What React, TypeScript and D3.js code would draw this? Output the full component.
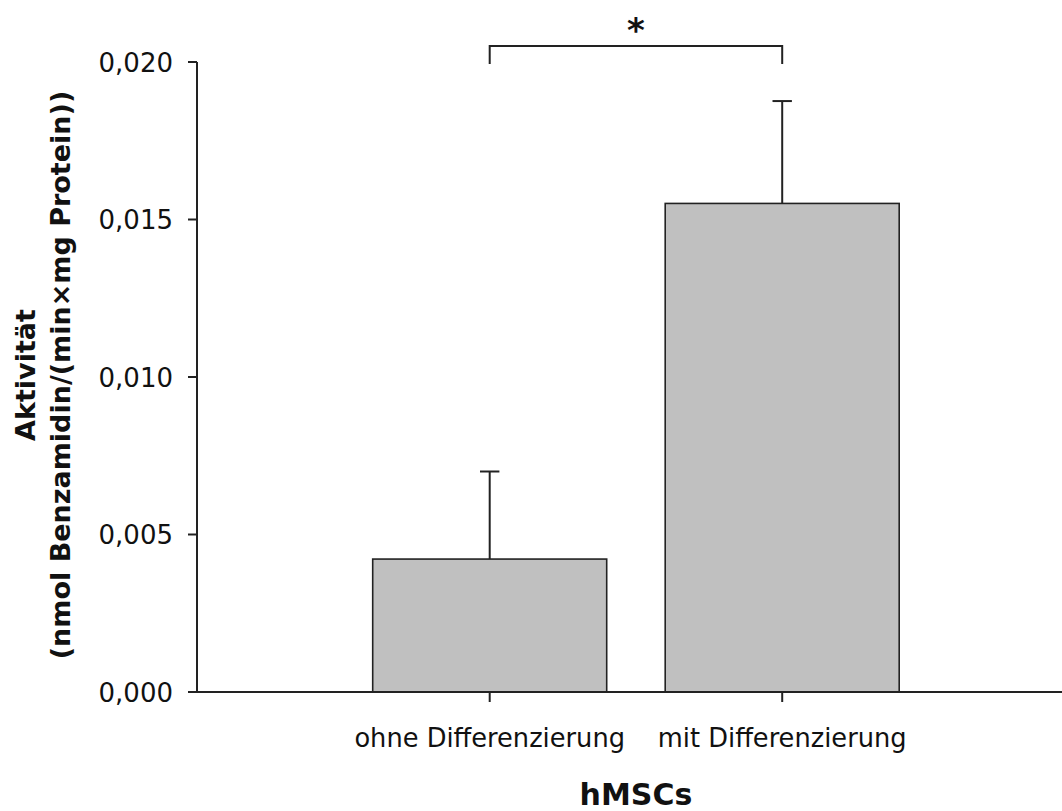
import React from "react";
import * as d3 from "d3";

const categories = ["ohne Differenzierung", "mit Differenzierung"];
const means = [0.00422, 0.01551];
const errors = [0.00278, 0.00325];
const yTicks = [0, 0.005, 0.01, 0.015, 0.02];
const yLabelLines = ["Aktivität", "(nmol Benzamidin/(min×mg Protein))"];
const xTitle = "hMSCs";
const significance = "*";

const W = 1062;
const H = 811;
const FONT = "'DejaVu Sans', Verdana, sans-serif";

export default function App() {
  const y = d3.scaleLinear().domain([0, 0.02]).range([692, 62]);
  const x = d3
    .scaleBand<string>()
    .domain(categories)
    .range([314.2, 957.7])
    .paddingInner(0.2)
    .paddingOuter(0.2);
  const axisX = 197;
  const fmt = (v: number) => d3.format(".3f")(v).replace(".", ",");
  const cx = (c: string) => (x(c) as number) + x.bandwidth() / 2;
  const c0 = cx(categories[0]);
  const c1 = cx(categories[1]);
  const capHalf = 9.7;

  return (
    <svg
      width={W}
      height={H}
      style={{ position: "absolute", left: 0, top: 0, background: "#fff" }}
      fontFamily={FONT}
    >
      <rect x={0} y={0} width={W} height={H} fill="#fff" />
      {categories.map((c, i) => (
        <g key={c}>
          <line
            x1={cx(c)}
            x2={cx(c)}
            y1={y(means[i])}
            y2={y(means[i] + errors[i])}
            stroke="#222"
            strokeWidth={2}
          />
          <line
            x1={cx(c) - capHalf}
            x2={cx(c) + capHalf}
            y1={y(means[i] + errors[i])}
            y2={y(means[i] + errors[i])}
            stroke="#222"
            strokeWidth={2}
          />
          <rect
            x={x(c)}
            y={y(means[i])}
            width={x.bandwidth()}
            height={y(0) - y(means[i])}
            fill="#c0c0c0"
            stroke="#222"
            strokeWidth={1.6}
          />
        </g>
      ))}
      <line x1={axisX} x2={axisX} y1={y(0.02)} y2={y(0)} stroke="#222" strokeWidth={2} />
      {yTicks.map((t) => (
        <g key={t}>
          <line x1={axisX - 9} x2={axisX} y1={y(t)} y2={y(t)} stroke="#222" strokeWidth={2} />
          <text x={173} y={y(t)} dy="0.37em" textAnchor="end" fontSize={26} fill="#111">
            {fmt(t)}
          </text>
        </g>
      ))}
      <line x1={188} x2={W} y1={y(0)} y2={y(0)} stroke="#222" strokeWidth={2} />
      {categories.map((c) => (
        <g key={c}>
          <line x1={cx(c)} x2={cx(c)} y1={y(0)} y2={y(0) + 10} stroke="#222" strokeWidth={2} />
          <text x={cx(c)} y={747} textAnchor="middle" fontSize={25.7} fill="#111">
            {c}
          </text>
        </g>
      ))}
      <text x={(c0 + c1) / 2} y={805} textAnchor="middle" fontSize={30} fontWeight="bold" fill="#111">
        {xTitle}
      </text>
      <g transform="translate(35,375) rotate(-90)">
        <text x={0} y={0} textAnchor="middle" fontSize={27} fontWeight="bold" fill="#111">
          {yLabelLines[0]}
        </text>
        <text x={0} y={35} textAnchor="middle" fontSize={27} fontWeight="bold" fill="#111">
          {yLabelLines[1]}
        </text>
      </g>
      <path d={`M${c0},64 V46 H${c1} V64`} fill="none" stroke="#222" strokeWidth={2} />
      <text x={(c0 + c1) / 2} y={42} textAnchor="middle" fontSize={34} fontWeight="bold" fill="#111">
        {significance}
      </text>
    </svg>
  );
}
